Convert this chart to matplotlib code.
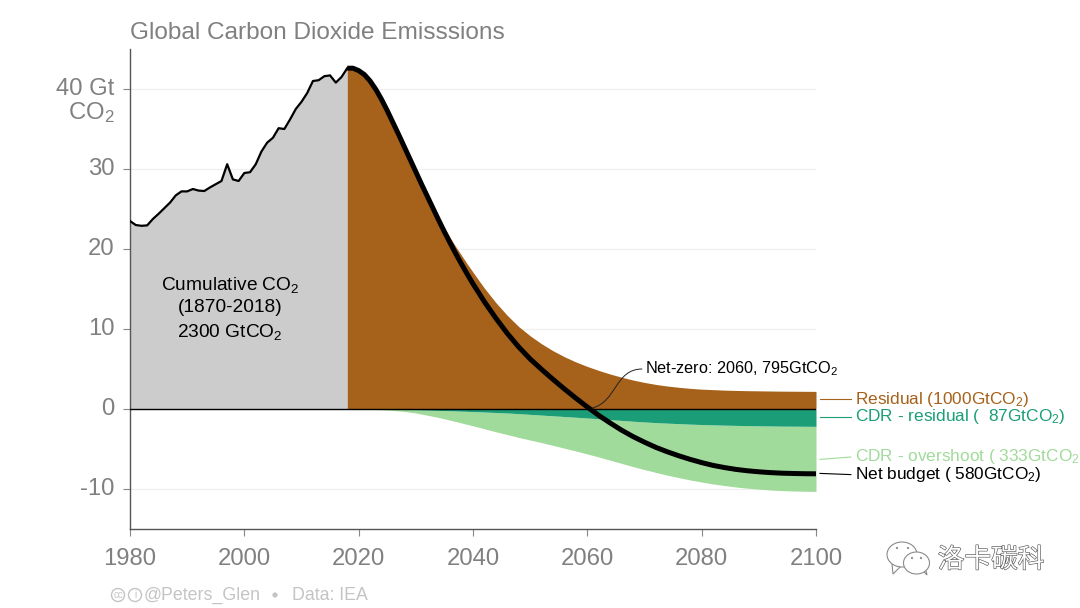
import matplotlib
matplotlib.use("Agg")
import matplotlib.patheffects as pe
import matplotlib.pyplot as plt
from matplotlib.patches import Circle, Ellipse, PathPatch, Polygon
from matplotlib.path import Path

plt.rcParams["font.family"] = ["Liberation Sans", "Noto Sans CJK SC", "DejaVu Sans"]
plt.rcParams["mathtext.default"] = "regular"
plt.rcParams["axes.unicode_minus"] = False

hist_years = list(range(1980, 2019))
hist_co2 = [23.5, 23.0, 22.9, 22.95, 23.75, 24.4, 25.1, 25.8, 26.7, 27.2,
            27.2, 27.5, 27.3, 27.25, 27.7, 28.1, 28.5, 30.6, 28.7, 28.5,
            29.5, 29.6, 30.6, 32.2, 33.3, 33.9, 35.1, 35.0, 36.2, 37.5,
            38.4, 39.5, 41.0, 41.1, 41.6, 41.7, 40.8, 41.5, 42.6]

proj_years = list(range(2018, 2040)) + list(range(2040, 2101, 2))
net_budget = [42.6, 42.6, 42.3, 41.8, 41.0, 39.95, 38.7, 37.3, 35.8, 34.3, 32.75,
              31.2, 29.65, 28.1, 26.6, 25.1, 23.6, 22.15, 20.75, 19.4, 18.1, 16.85,
              15.65, 13.4, 11.35, 9.45, 7.75, 6.25, 4.95, 3.7, 2.5, 1.35, 0.25,
              -0.8, -1.75, -2.65, -3.45, -4.15, -4.8, -5.35, -5.85, -6.3, -6.7,
              -7.05, -7.32, -7.55, -7.72, -7.85, -7.95, -8.02, -8.06, -8.09, -8.1]
residual_top = [42.6, 42.6, 42.3, 41.8, 41.02, 39.98, 38.74, 37.35, 35.85, 34.36, 32.82,
                31.3, 29.8, 28.3, 26.8, 25.35, 23.95, 22.65, 21.42, 20.28, 19.2, 18.12,
                17.1, 15.1, 13.3, 11.7, 10.3, 9.15, 8.15, 7.28, 6.53, 5.88, 5.32,
                4.82, 4.37, 3.97, 3.62, 3.32, 3.07, 2.87, 2.71, 2.58, 2.48,
                2.42, 2.36, 2.32, 2.29, 2.27, 2.25, 2.23, 2.22, 2.21, 2.2]
cdr_residual = [0, 0, 0, 0, 0, -0.01, -0.02, -0.03, -0.04, -0.055, -0.07,
                -0.085, -0.1, -0.12, -0.14, -0.16, -0.18, -0.2, -0.22, -0.245, -0.27, -0.295,
                -0.32, -0.38, -0.44, -0.5, -0.58, -0.67, -0.76, -0.85, -0.94, -1.03, -1.12,
                -1.22, -1.33, -1.43, -1.53, -1.62, -1.7, -1.77, -1.83, -1.89, -1.94,
                -1.98, -2.02, -2.05, -2.08, -2.1, -2.12, -2.14, -2.15, -2.16, -2.17]
cdr_overshoot = [0, 0, 0, 0, -0.02, -0.05, -0.08, -0.13, -0.18, -0.24, -0.3,
                 -0.4, -0.5, -0.64, -0.78, -0.92, -1.06, -1.23, -1.4, -1.57, -1.75, -1.93,
                 -2.1, -2.47, -2.85, -3.2, -3.55, -3.88, -4.2, -4.55, -4.9, -5.25, -5.62,
                 -6.0, -6.4, -6.8, -7.2, -7.57, -7.93, -8.27, -8.58, -8.87, -9.13,
                 -9.37, -9.57, -9.75, -9.9, -10.02, -10.12, -10.2, -10.25, -10.28, -10.3]

x_ticks = [1980, 2000, 2020, 2040, 2060, 2080, 2100]
y_ticks = [-10, 0, 10, 20, 30, 40]
y_tick_labels = ["-10", "0", "10", "20", "30", "40 Gt"]

GREY_TEXT = "#808080"
BROWN = "#A6611A"
TEAL = "#1B9E77"
LIGHT_GREEN = "#A1DB9B"

W, H = 1080, 608
fig = plt.figure(figsize=(W / 100, H / 100), dpi=100)
ax = fig.add_axes([130 / W, 1 - 529 / H, 686 / W, 480 / H])
ax.set_xlim(1980, 2100)
ax.set_ylim(-15, 45)

for y in y_ticks:
    ax.axhline(y, color="#f0f0f0", lw=1, zorder=1)

ax.fill_between(hist_years, 0, hist_co2, color="#CCCCCC", lw=0, zorder=2)
ax.fill_between(proj_years, 0, residual_top, color=BROWN, lw=0, zorder=2)
ax.fill_between(proj_years, cdr_residual, cdr_overshoot, color=LIGHT_GREEN, lw=0, zorder=2)
ax.fill_between(proj_years, 0, cdr_residual, color=TEAL, lw=0, zorder=2)
ax.plot([1980, 2100], [0, 0], color="black", lw=1, zorder=3)
ax.plot(hist_years, hist_co2, color="black", lw=1.6, solid_joinstyle="round", zorder=4)
ax.plot(proj_years, net_budget, color="black", lw=3.6, solid_capstyle="butt", zorder=4)

for side in ["top", "right"]:
    ax.spines[side].set_visible(False)
for side in ["left", "bottom"]:
    ax.spines[side].set_color("#555555")
    ax.spines[side].set_linewidth(1)
ax.set_xticks(x_ticks)
ax.set_yticks(y_ticks)
ax.set_yticklabels(y_tick_labels)
ax.tick_params(axis="both", length=5, width=0.8, color="#888888",
               labelcolor=GREY_TEXT, labelsize=17.2)
ax.tick_params(axis="x", pad=8.5)
ax.tick_params(axis="y", pad=6)
for lab in ax.get_yticklabels():
    lab.set_verticalalignment("center")

# text on the grey area
ax.text(1997.5, 15.5, "Cumulative CO$_2$", ha="center", va="center", fontsize=13.8)
ax.text(1997.5, 12.75, "(1870-2018)", ha="center", va="center", fontsize=13.8)
ax.text(1997.5, 9.6, "2300 GtCO$_2$", ha="center", va="center", fontsize=13.8)

# net-zero callout
curve = Path([(2060.8, 0.1), (2065.2, 0.9), (2064.8, 5.0), (2069.6, 5.0)],
             [Path.MOVETO, Path.CURVE4, Path.CURVE4, Path.CURVE4])
ax.add_patch(PathPatch(curve, fc="none", ec="#222222", lw=0.7, zorder=5))
ax.text(2070.1, 5.0, "Net-zero: 2060, 795GtCO$_2$", ha="left", va="center",
        fontsize=11.7, color="black")

# labels to the right of the plot
series_labels = [
    ("Residual (1000GtCO$_2$)", BROWN, 1.2, 1.2),
    ("CDR - residual (  87GtCO$_2$)", TEAL, -1.0, -1.0),
    ("CDR - overshoot ( 333GtCO$_2$", LIGHT_GREEN, -6.3, -6.0),
    ("Net budget ( 580GtCO$_2$)", "black", -8.05, -8.2),
]
for label, colour, y0, y1 in series_labels:
    ax.plot([2100.7, 2106.1], [y0, y1], color=colour, lw=0.8, clip_on=False, zorder=5)
    ax.text(2106.8, y1, label, color=colour, ha="left", va="center", fontsize=12.45, clip_on=False)

# overlay in pixel coordinates for title, footer and watermark
over = fig.add_axes([0, 0, 1, 1])
over.set_xlim(0, W)
over.set_ylim(H, 0)
over.axis("off")
over.patch.set_alpha(0)

over.text(130, 33, "Global Carbon Dioxide Emisssions", color=GREY_TEXT, fontsize=17.6,
          ha="left", va="center")
over.text(115, 113, "CO$_2$", color=GREY_TEXT, fontsize=17.2, ha="right", va="center")

FOOT = "#C4C4C4"
for cx, sym in [(118, "cc"), (135, "i")]:
    over.add_patch(Circle((cx, 595), 6.5, fc="none", ec=FOOT, lw=1))
    over.text(cx, 594.5, sym, color=FOOT, fontsize=7, ha="center", va="center")
over.text(144, 595, "@Peters_Glen", color=FOOT, fontsize=12.8, ha="left", va="center")
over.add_patch(Circle((275, 595), 2.6, fc=FOOT, ec="none"))
over.text(292, 595, "Data: IEA", color=FOOT, fontsize=12.8, ha="left", va="center")

# watermark
MARK = "#8a8a8a"
over.add_patch(Polygon([(892, 564), (893, 574), (901, 566)], fc="white", ec=MARK, lw=0.8))
over.add_patch(Ellipse((902, 554.5), 30, 25, fc="white", ec=MARK, lw=0.8))
over.add_patch(Polygon([(922, 570), (927, 575), (925, 566)], fc="white", ec=MARK, lw=0.8))
over.add_patch(Ellipse((916.5, 563), 26, 22, fc="white", ec=MARK, lw=0.8))
for dx, dy in [(897, 548), (908, 548), (912, 558), (921, 558)]:
    over.add_patch(Circle((dx, dy), 1.1, fc=MARK, ec="none"))
over.text(991, 560, "洛卡碳科", fontsize=19.2, color="white", ha="center", va="center",
          family=["Noto Sans CJK SC", "DejaVu Sans"],
          path_effects=[pe.withStroke(linewidth=0.9, foreground="#555555")])

fig.savefig("out.png", dpi=100)
plt.close(fig)
